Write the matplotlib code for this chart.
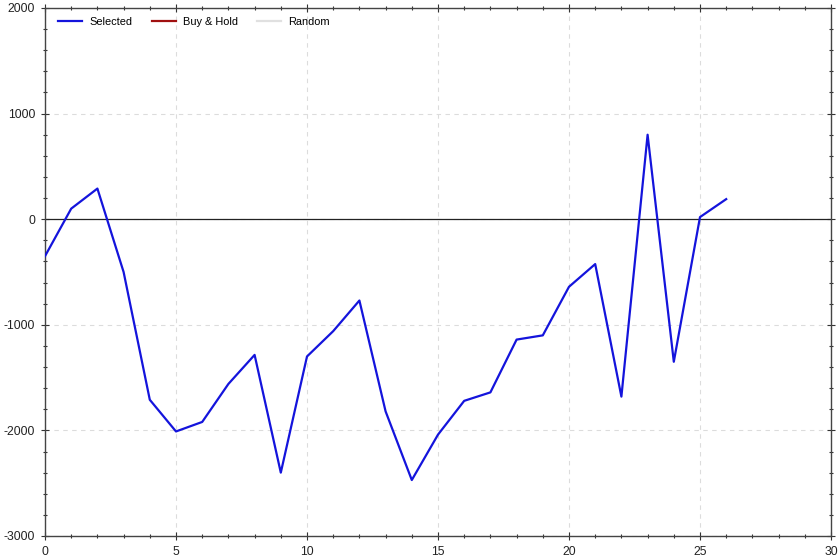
import matplotlib
matplotlib.use("Agg")
import matplotlib.pyplot as plt
from matplotlib.ticker import MultipleLocator

plt.rcParams['font.family'] = ['Liberation Sans', 'DejaVu Sans']
plt.rcParams['axes.unicode_minus'] = False

x_vals = list(range(27))
selected = [-350, 100, 290, -500, -1710, -2010, -1920, -1560, -1285, -2400,
            -1300, -1060, -770, -1820, -2470, -2040, -1720, -1640, -1140, -1100,
            -640, -425, -1680, 800, -1350, 20, 190]
legend_labels = ["Selected", "Buy & Hold", "Random"]
legend_colors = ["#1414dc", "#a01010", "#e0e0e0"]

fig = plt.figure(figsize=(8.39, 5.57), dpi=100)
ax = fig.add_axes([45/839, 1-536/557, (831-45)/839, (536-8)/557])

ax.plot(x_vals, selected, color=legend_colors[0], lw=1.6, label=legend_labels[0], zorder=3)
ax.plot([], [], color=legend_colors[1], lw=1.6, label=legend_labels[1])
ax.plot([], [], color=legend_colors[2], lw=1.6, label=legend_labels[2])
ax.axhline(0, color="#222222", lw=0.9, zorder=2)

ax.set_xlim(0, 30)
ax.set_ylim(-3000, 2000)
ax.xaxis.set_major_locator(MultipleLocator(5))
ax.xaxis.set_minor_locator(MultipleLocator(1))
ax.yaxis.set_major_locator(MultipleLocator(1000))
ax.yaxis.set_minor_locator(MultipleLocator(200))
ax.grid(True, which="major", color="#dcdcdc", linestyle=(0, (4, 4)), lw=0.8)
ax.tick_params(which="both", direction="inout", top=True, right=True,
               labelsize=8.7, colors="#333333", labelcolor="#222222")
ax.tick_params(which="major", length=6, width=0.8, pad=4)
ax.tick_params(which="minor", length=3.5, width=0.8)
for s in ax.spines.values():
    s.set_color("#444444")
    s.set_linewidth(1.0)

ax.legend(loc="upper left", ncol=3, frameon=False, fontsize=7.9,
          handlelength=2.2, handletextpad=0.65, columnspacing=1.75,
          borderaxespad=0.0, borderpad=0.3,
          bbox_to_anchor=(10/786, 0.989))

fig.savefig("out.png", dpi=100)
